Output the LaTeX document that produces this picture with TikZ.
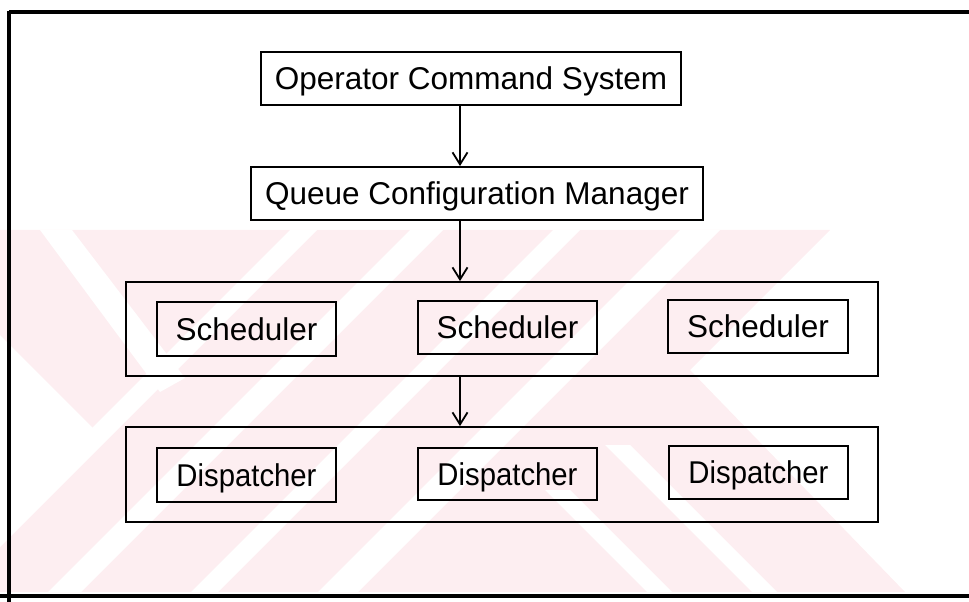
\documentclass[tikz,border=0pt]{standalone}
\usepackage{fontspec}
\usepackage{graphicx}
\setmainfont{Liberation Sans}
\usetikzlibrary{arrows.meta}
\definecolor{wmpink}{RGB}{253,238,241}
\newcommand\squeezed[1]{\scalebox{0.93}[1]{#1}}
\begin{document}
\begin{tikzpicture}[x=1bp,y=-1bp,
  box/.style={draw, line width=1.9bp, inner sep=0pt, text height=22.6bp, text depth=0pt,
              font=\fontsize{31.5bp}{36bp}\selectfont},
  grp/.style={draw, line width=1.8bp, inner sep=0pt},
  arr/.style={line width=1.8bp, -{Straight Barb[length=12bp,width=15bp]}},
  rule/.style={line width=3.2bp}]
\useasboundingbox (0,0) rectangle (969,602);

% background band of diagonal stripes
\begin{scope}
  \clip (0,230) rectangle (969,592);
  \fill[wmpink] (0,230) -- (830,230) -- (690,370) -- (905,592) -- (0,592) -- cycle;
  \fill[white] (290,230) -- (317,230) -- (-45,592) -- (-72,592) -- cycle;
  \fill[white] (410,230) -- (443,230) -- (81,592) -- (48,592) -- cycle;
  \fill[white] (553,230) -- (580,230) -- (218,592) -- (191,592) -- cycle;
  \fill[white] (680,230) -- (720,230) -- (358,592) -- (318,592) -- cycle;
  \fill[white] (0,335) -- (105,440) -- (0,545) -- cycle;
  \fill[white] (40,230) -- (72,230) -- (185,378) -- (160,392) -- cycle;
  \fill[white] (605,445) -- (630,445) -- (777,592) -- (752,592) -- cycle;
  \fill[white] (545,490) -- (570,490) -- (672,592) -- (647,592) -- cycle;
\end{scope}

% page frame
\draw[rule] (975,12) -- (9,12);
\draw[line width=4.5bp] (9,11) -- (9,602);
\draw[rule] (0,596) -- (975,596);

% top-level boxes
\node[box, minimum width=420bp, minimum height=53bp] (ocs) at (471,78.5) {Operator Command System};
\node[box, minimum width=452bp, minimum height=53bp] (qcm) at (477,193.5) {Queue Configuration Manager};

% scheduler group
\node[grp, minimum width=752bp, minimum height=94bp] (sgrp) at (502,329) {};
\node[box, minimum width=179bp, minimum height=54bp] (s1) at (246.5,329) {Scheduler};
\node[box, minimum width=179bp, minimum height=53bp] (s2) at (507.5,327.5) {Scheduler};
\node[box, minimum width=180bp, minimum height=53bp] (s3) at (758,326.5) {Scheduler};

% dispatcher group
\node[grp, minimum width=752bp, minimum height=95bp] (dgrp) at (502,474.5) {};
\node[box, minimum width=179bp, minimum height=54bp] (d1) at (246.5,475) {\squeezed{Dispatcher}};
\node[box, minimum width=179bp, minimum height=52bp] (d2) at (507.5,474) {\squeezed{Dispatcher}};
\node[box, minimum width=179bp, minimum height=53bp] (d3) at (758.5,472.5) {\squeezed{Dispatcher}};

% connectors along a common vertical axis
\coordinate (ax) at (460,0);
\draw[arr] (ocs.south -| ax) -- (qcm.north -| ax);
\draw[arr] (qcm.south -| ax) -- (sgrp.north -| ax);
\draw[arr] (sgrp.south -| ax) -- (dgrp.north -| ax);
\end{tikzpicture}
\end{document}
